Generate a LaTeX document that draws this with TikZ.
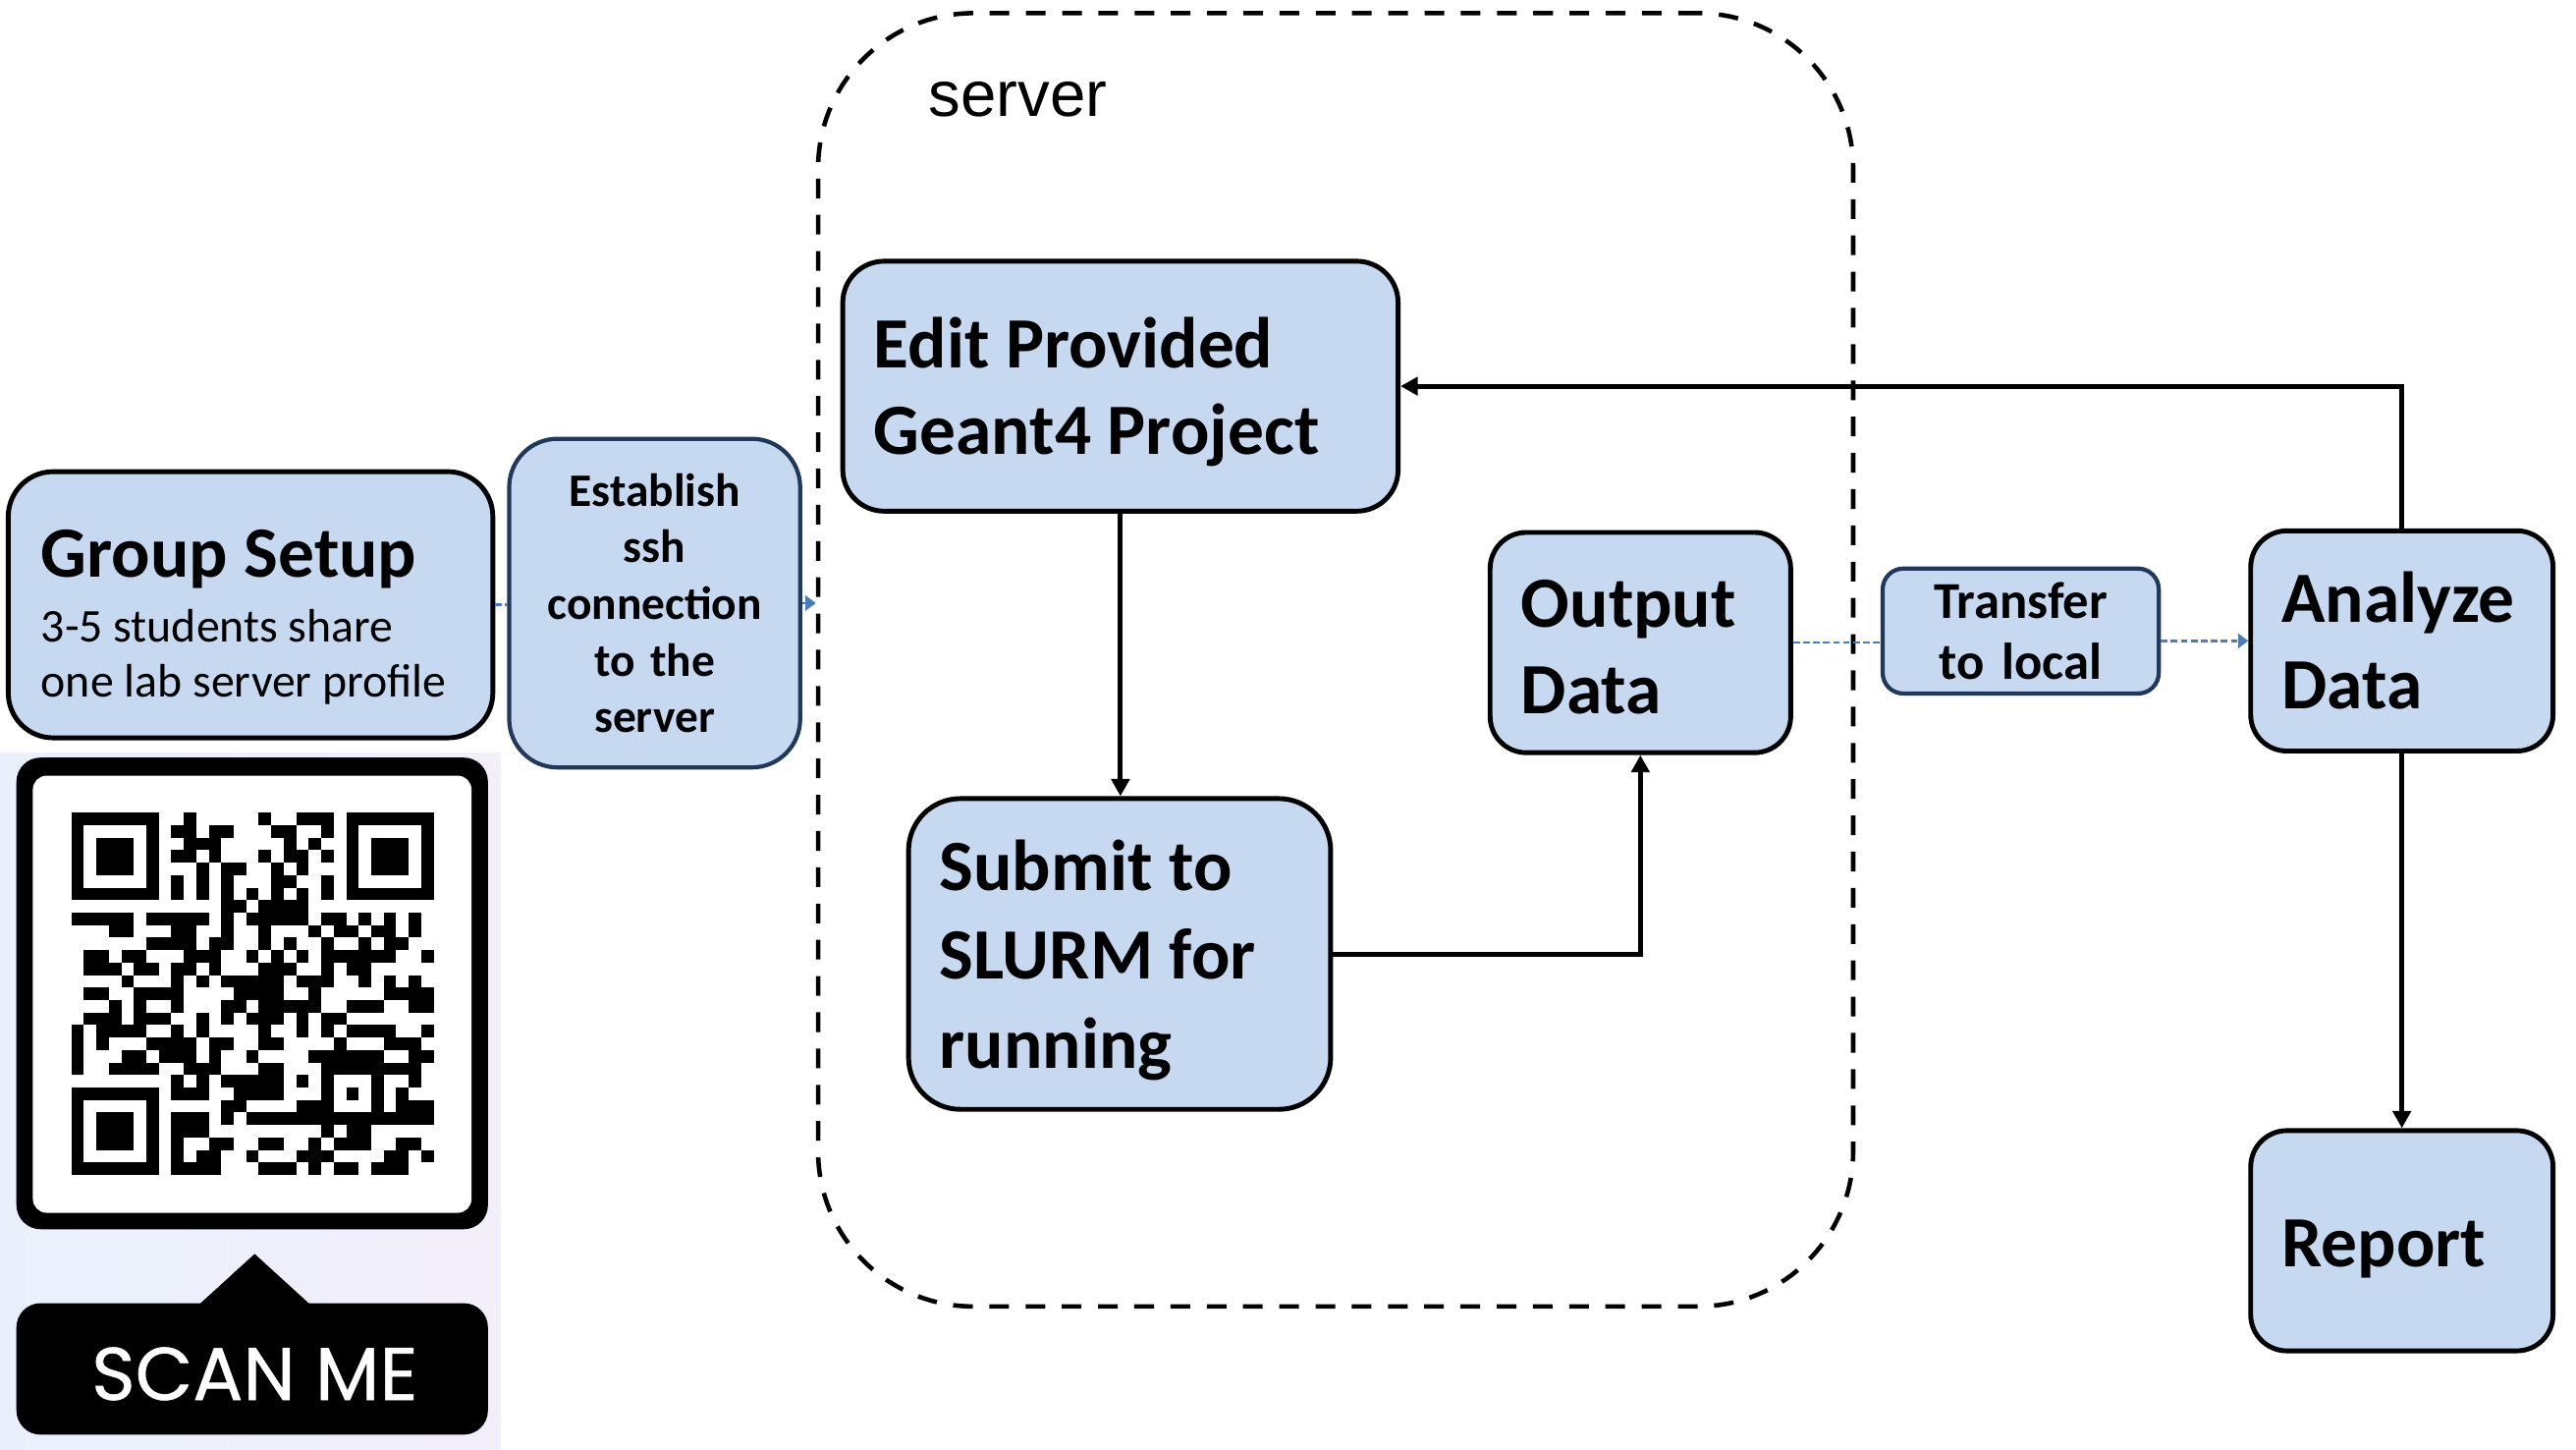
\documentclass[tikz,border=0pt]{standalone}
\usepackage{fontspec}
\setmainfont{Carlito}
\newfontfamily\arialfont{Liberation Sans}
\newfontfamily\scanfont{Poppins}[FakeBold=0.7]
\usetikzlibrary{arrows.meta, calc}
\hyphenpenalty=10000
\exhyphenpenalty=10000

\definecolor{boxblue}{RGB}{199,217,240}
\definecolor{navy}{RGB}{32,56,90}
\definecolor{linkblue}{RGB}{74,126,187}
\definecolor{panelL}{RGB}{233,240,252}
\definecolor{panelR}{RGB}{243,239,250}

\tikzset{
  blk/.style={
    rectangle, rounded corners=10.5pt, draw=black, line width=1.4pt,
    fill=boxblue, align=flush left, inner xsep=9pt, inner ysep=0pt,
    font=\bfseries\fontsize{20.9}{25}\selectfont
  },
  tdown/.style={execute at begin node={\rule{0pt}{#1}}},
  nblk/.style={blk, draw=navy, line width=1.2pt, align=center, inner xsep=2pt},
  arr/.style  = {-{Triangle[length=5pt, width=5.2pt]}, line width=1.4pt},
  dln/.style  = {linkblue, line width=0.75pt, dash pattern=on 1.9pt off 1pt},
  darr/.style = {dln, -{Triangle[length=3pt, width=4.3pt]}},
  srv/.style  = {rectangle, rounded corners=45pt, draw=black, line width=1.3pt,
                 dash pattern=on 5.7pt off 4.8pt},
}

\newcommand{\qrfind}[2]{%
  \fill[black] (#1,#2) rectangle ++(7,7);
  \fill[white] (#1+1,#2+1) rectangle ++(5,5);
  \fill[black] (#1+2,#2+2) rectangle ++(3,3);}

\begin{document}
\begin{tikzpicture}[x=0.476pt, y=-0.476pt]
\useasboundingbox (0,0) rectangle (1568,882);

%% ── Server area (dashed) ────────────────────────────────────────────────────
\node[srv, minimum width=299.9pt, minimum height=374.6pt] (server) at (813,401.5) {};
\node[font=\arialfont\fontsize{18.6}{22}\selectfont, anchor=base west, inner sep=0pt]
  (srvlbl) at (565,70.7) {server};

%% ── Left column: Group Setup | ssh ──────────────────────────────────────────
\node[blk, rounded corners=13pt, text width=121.4pt, inner xsep=9.5pt, minimum height=77.1pt, tdown=21pt] (grp) at (152.5,368)
  {Group Setup\\[2.6pt]{\mdseries\fontsize{13.6}{16}\selectfont 3-5 students share\\one lab server profile\par}};
\node[nblk, rounded corners=14pt, text width=80.3pt, minimum height=95.2pt,
      font=\bfseries\fontsize{13.5}{16.4}\selectfont] (ssh) at (398.5,367)
  {Establish\\ssh\\connection\\to the\\server};

%% ── Inside the server ───────────────────────────────────────────────────────
\node[blk, rounded corners=12pt, text width=142.9pt, minimum height=72.4pt, tdown=18.2pt] (edit) at (682,235)
  {Edit Provided\\Geant4 Project};
\node[blk, rounded corners=15pt, text width=104.3pt, minimum height=90pt, tdown=18.2pt,
      font=\bfseries\fontsize{20.9}{25.7}\selectfont] (submit) at (681.5,580.5)
  {Submit to\\SLURM for\\running};
\node[blk, text width=69.1pt, minimum height=63.8pt, tdown=16.2pt] (output) at (998.5,391)
  {Output\\Data};

%% ── Local side: Transfer | Analyze | Report ─────────────────────────────────
\node[nblk, rounded corners=6pt, text width=76pt, minimum height=36.2pt,
      font=\bfseries\fontsize{15}{17.6}\selectfont] (transfer) at (1230,384)
  {Transfer\\to local};
\node[blk, text width=69.6pt, minimum height=63.8pt] (analyze) at (1462,390)
  {Analyze\\Data};
\node[blk, text width=69.6pt, minimum height=63.8pt, tdown=18.2pt] (report) at (1462,755)
  {Report};

%% ── Connectors ──────────────────────────────────────────────────────────────
\draw[dln]  (grp.east) -- (grp.east -| ssh.west);
\draw[darr] (ssh.east) -- (ssh.east -| server.west);
\draw[arr]  (edit.south) -- (edit.south |- submit.north);
\draw[arr]  (submit.east) -| (output.south);
\draw[dln]  (output.east) -- (output.east -| transfer.west);
\draw[darr] (analyze.west -| transfer.east) -- (analyze.west);
\draw[arr]  (analyze.north) |- (edit.east);
\draw[arr]  (analyze.south) -- (report.north);

%% ── QR panel ────────────────────────────────────────────────────────────────
\shade[left color=panelL, right color=panelR] (0,458) rectangle (305,882);
\fill[black, rounded corners=7pt] (10,461) rectangle (297,748);
\fill[white, rounded corners=4pt] (20,472) rectangle (287,738);
\fill[black, rounded corners=7pt] (10,793) rectangle (297,873);
\fill[black] (121,794) -- (155,763) -- (189,794) -- cycle;
\node[font=\scanfont\fontsize{21.6}{26}\selectfont, text=white, inner sep=0pt] (scan) at (155,836) {SCAN ME};

\begin{scope}[shift={(43.5,494.5)}, x=3.618pt, y=-3.618pt]
  \foreach \r/\cols in {
     0/{9,15,18,19,20},
     1/{8,9,11,12,16,17,20},
     2/{9,10,11,17,19},
     3/{8,9,11,15,17,18,20},
     4/{10,12,13,16,18},
     5/{8,10,12,16,17,20},
     7/{12,13,15,16,17,18},
     8/{0,1,2,3,4,7,8,9,10,12,14,15,16,17,18,20,21,23,25,27},
     9/{3,4,8,9,12,15,19,21,22,24,25,27},
    10/{7,8,9,11,12,15,17,20,23,25,26},
    11/{1,2,4,5,9,10,11,14,16,18,20,21,22,23,24,25,28},
    12/{1,2,3,5,8,9,11,15,16,17,20,22,23},
    13/{4,8,10,12,13,14,15,16,18,19,20,23,25,27},
    14/{1,2,5,7,8,13,14,15,16,19,25,26,27,28},
    15/{3,5,8,12,13,15,16,17,18,19,22,23,24,27,28},
    16/{1,2,3,5,7,10,12,14,15,16,18,20,21},
    17/{0,2,3,4,5,8,10,15,18,20,22,23,24,25,28},
    18/{0,2,7,8,9,11,12,15,16,21,25,26,27},
    19/{0,4,5,7,8,9,11,14,19,20,21,22,23,24,27,28},
    20/{0,3,4,5,9,10,11,15,16,25,26,27},
    21/{8,10,12,13,14,15,16,18,27},
    22/{8,9,10,13,14,15,16,26},
    23/{12,13,18,19,26,27,28},
    24/{8,9,10,12,14,15,16,17,18,19,25,26,27,28},
    25/{8,9,10,20,22,23},
    26/{8,11,12,15,16,19,21,22,23,26,27},
    27/{8,10,11,14,18,19,20,25,26,28},
    28/{8,9,10,11,15,16,17,19,21,22,24,25,26}}
  {\foreach \c in \cols {\fill[black] (\c,\r) rectangle ++(1,1);}}
  \foreach \k in {8,10,...,20} {
    \fill[black] (\k,6) rectangle ++(1,1);
    \fill[black] (6,\k) rectangle ++(1,1);
  }
  \fill[black] (20,20) rectangle ++(5,5);
  \fill[white] (21,21) rectangle ++(3,3);
  \fill[black] (22,22) rectangle ++(1,1);
  \qrfind{0}{0}
  \qrfind{22}{0}
  \qrfind{0}{22}
\end{scope}

\end{tikzpicture}
\end{document}
